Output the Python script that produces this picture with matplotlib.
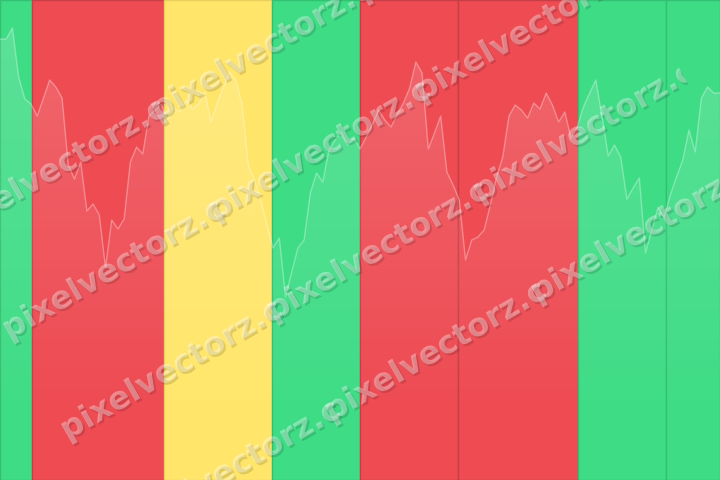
import numpy as np
import matplotlib
matplotlib.use('Agg')
import matplotlib.pyplot as plt
import matplotlib.patheffects as pe
from matplotlib.patches import Polygon

# ---- data ----
values = [441, 441, 452, 403, 381, 376, 364, 382, 400, 393,
          382, 315, 301, 318, 269, 276, 265, 212, 260, 251,
          261, 318, 333, 326, 364, 370, 376, 360, 372, 368,
          380, 371, 376, 388, 358, 377, 393, 408, 400, 375,
          315, 300, 280, 255, 232, 242, 183, 208, 232, 240,
          287, 307, 298, 330, 340, 348, 335, 342, 331, 343,
          356, 370, 360, 353, 366, 377, 392, 418, 407, 331,
          347, 364, 308, 295, 280, 220, 240, 243, 250, 275,
          303, 323, 364, 375, 370, 362, 377, 371, 387, 375,
          358, 368, 342, 353, 373, 387, 400, 363, 324, 335,
          323, 281, 292, 302, 227, 250, 272, 263, 285, 303,
          320, 350, 328, 382, 393, 387, 387]
band_edges = [0, 5.2, 26.4, 43.8, 58.0, 73.8, 93.1, 107.3, 116]
band_states = ['up', 'down', 'flat', 'up', 'down', 'down', 'up', 'up']
watermark_text = 'pixelvectorz.c'

state_colors = {'up': '#3FDC86', 'down': '#EE4B53', 'flat': '#FFE66B'}
state_edges = {'up': '#33C072', 'down': '#C63E48', 'flat': '#E8CF5E'}

fig = plt.figure(figsize=(7.2, 4.8), dpi=100)
ax = fig.add_axes([0, 0, 1, 1])

x = np.arange(len(values))
for i, st in enumerate(band_states):
    ax.axvspan(band_edges[i], band_edges[i + 1], facecolor=state_colors[st],
               edgecolor=state_edges[st], linewidth=1.0, zorder=1)

verts = np.vstack([np.column_stack([x, values]), [[x[-1], 0], [x[0], 0]]])
poly = Polygon(verts, closed=True, facecolor='none', edgecolor='none')
ax.add_patch(poly)
grad = np.ones((256, 1, 4))
grad[:, 0, 3] = np.linspace(0.16, 0.0, 256)
im = ax.imshow(grad, extent=[0, x[-1], 60, 470], origin='upper',
               aspect='auto', zorder=2, interpolation='bilinear')
im.set_clip_path(poly)
ax.plot(x, values, color='white', alpha=0.32, lw=1.0, zorder=3)
ax.set_xlim(0, x[-1])
ax.set_ylim(0, 480)
ax.axis('off')

# ---- watermark layer (pixel coordinates, y down) ----
wm = fig.add_axes([0, 0, 1, 1], zorder=10)
wm.set_xlim(0, 720)
wm.set_ylim(480, 0)
wm.axis('off')
renderer = fig.canvas.get_renderer()
fs = 23
probe = wm.text(0, 0, watermark_text[:-1], fontsize=fs, fontweight='bold')
w13 = probe.get_window_extent(renderer).width
probe.remove()
probe = wm.text(0, 0, watermark_text[-1], fontsize=fs, fontweight='bold')
wc = probe.get_window_extent(renderer).width
probe.remove()
period = w13 + 0.3 * wc

ang = np.deg2rad(30)
u = np.array([np.cos(ang), -np.sin(ang)])
v = np.array([np.sin(ang), np.cos(ang)])
S3 = np.array([63.0, 433.0])
row_gap = 116
L = 716
S1 = S3 - 2 * row_gap * v
S4 = S3 + row_gap * v
c0 = S1 - 4 * u - 45 * v
c1 = S1 + L * u - 45 * v
c2 = S4 + L * u + 45 * v
c3 = S4 - 4 * u + 45 * v
clip = Polygon([c0, c1, c2, c3], closed=True, facecolor='none',
               edgecolor='none', transform=wm.transData)
wm.add_patch(clip)

for k in range(4):
    S = S3 + (k - 2) * row_gap * v
    for j in range(3):
        P = S + j * period * u
        t = wm.text(P[0], P[1], watermark_text, fontsize=fs, fontweight='bold',
                    color=(1, 1, 1, 0.34), rotation=30, rotation_mode='anchor',
                    ha='left', va='center', clip_on=True,
                    path_effects=[pe.withSimplePatchShadow(offset=(1.4, -1.4),
                                                           shadow_rgbFace=(0, 0, 0),
                                                           alpha=0.13)])
        t.set_clip_path(clip)

fig.savefig('out.png', dpi=100)
